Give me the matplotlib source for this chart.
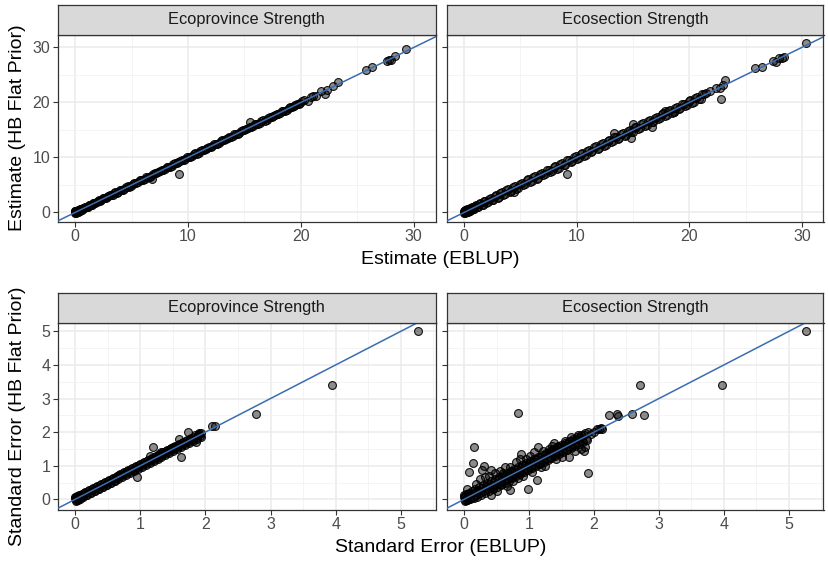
import matplotlib
matplotlib.use("Agg")
import matplotlib.pyplot as plt
from matplotlib.ticker import MultipleLocator

plt.rcParams['font.family'] = ['Liberation Sans', 'DejaVu Sans']

# ---- Estimate, Ecoprovince Strength (EBLUP on x, HB flat prior on y)
est_prov_eblup = [
    0.00, 0.02, 0.05, 0.08, 0.12, 0.18, 0.25, 0.33, 0.42, 0.52,
    0.63, 0.75, 0.90, 1.05, 1.20, 1.40, 1.60, 1.80, 2.00, 2.20,
    2.45, 2.70, 2.95, 3.20, 3.45, 3.70, 3.95, 4.20, 4.50, 4.80,
    5.10, 5.40, 5.70, 6.00, 6.30, 6.60, 6.90, 7.20, 7.50, 7.80,
    8.10, 8.40, 8.70, 9.00, 9.30, 9.60, 9.90, 10.2, 10.5, 10.8,
    11.1, 11.4, 11.7, 12.0, 12.3, 12.6, 12.9, 13.2, 13.5, 13.8,
    14.1, 14.4, 14.7, 15.0, 15.3, 15.6, 15.9, 16.2, 16.5, 16.8,
    17.1, 17.4, 17.7, 18.0, 18.3, 18.6, 18.9, 19.2, 19.5, 19.8,
    20.1,
    0.01, 0.03, 0.06, 0.10, 0.15, 0.21, 0.29, 0.37, 0.47, 0.57,
    0.69, 0.82, 0.97, 1.12, 1.30, 1.50, 1.70, 1.90, 2.10, 2.32,
    2.57, 2.82, 3.07, 3.32, 3.57, 3.82, 4.07, 4.35, 4.65, 4.95,
    5.25, 5.55, 5.85, 6.15, 6.45, 6.75, 7.05, 7.35, 7.65, 7.95,
    8.25, 8.55, 8.85, 9.15, 9.45, 9.75, 10.05, 10.35, 10.65, 10.95,
    11.25, 11.55, 11.85, 12.15, 12.45, 12.75, 13.05, 13.35, 13.65, 13.95,
    14.25, 14.55, 14.85, 15.15, 15.45, 15.75, 16.05, 16.35, 16.65, 16.95,
    17.25, 17.55, 17.85, 18.15, 18.45, 18.75, 19.05, 19.35, 19.65, 19.95,
    6.8, 9.2, 15.5, 20.3, 20.6, 20.9, 21.1, 21.3, 21.8, 22.1,
    22.3, 22.8, 23.3, 25.8, 26.3, 27.6, 27.8, 28.0, 28.3, 29.3,
]
est_prov_hb = [
    0.10, 0.25, -0.05, 0.30, 0.05, 0.35, 0.15, 0.45, 0.30, 0.62,
    0.55, 0.80, 1.00, 0.95, 1.32, 1.35, 1.72, 1.75, 2.12, 2.10,
    2.55, 2.60, 3.08, 3.10, 3.58, 3.62, 4.05, 4.12, 4.62, 4.70,
    5.20, 5.32, 5.82, 5.90, 6.42, 6.50, 7.00, 7.10, 7.62, 7.70,
    8.22, 8.30, 8.80, 8.92, 9.40, 9.52, 10.00, 10.10, 10.62, 10.70,
    11.20, 11.32, 11.80, 11.90, 12.42, 12.50, 13.00, 13.10, 13.62, 13.70,
    14.20, 14.30, 14.82, 14.90, 15.40, 15.50, 16.00, 16.10, 16.62, 16.70,
    17.20, 17.32, 17.80, 17.90, 18.42, 18.50, 19.00, 19.10, 19.62, 19.70,
    20.22,
    0.20, -0.08, 0.22, 0.02, 0.28, 0.12, 0.40, 0.30, 0.58, 0.47,
    0.80, 0.75, 1.08, 1.05, 1.40, 1.42, 1.78, 1.82, 2.18, 2.25,
    2.65, 2.75, 3.15, 3.25, 3.65, 3.75, 4.15, 4.28, 4.73, 4.88,
    5.33, 5.48, 5.93, 6.08, 6.53, 6.68, 7.13, 7.28, 7.73, 7.88,
    8.33, 8.48, 8.93, 9.08, 9.53, 9.68, 10.13, 10.28, 10.73, 10.88,
    11.33, 11.48, 11.93, 12.08, 12.53, 12.68, 13.13, 13.28, 13.73, 13.88,
    14.33, 14.48, 14.93, 15.08, 15.53, 15.68, 16.13, 16.28, 16.73, 16.88,
    17.33, 17.48, 17.93, 18.08, 18.53, 18.68, 19.13, 19.28, 19.73, 19.88,
    6.1, 6.9, 16.4, 20.5, 20.2, 20.9, 21.2, 21.1, 22.1, 21.6,
    22.2, 22.9, 23.8, 25.9, 26.4, 27.6, 27.8, 27.7, 28.4, 29.7,
]

# ---- Estimate, Ecosection Strength
est_sect_eblup = [
    0.00, 0.03, 0.06, 0.10, 0.15, 0.22, 0.30, 0.40, 0.50, 0.62,
    0.75, 0.90, 1.05, 1.25, 1.45, 1.65, 1.85, 2.10, 2.35, 2.60,
    2.85, 3.10, 3.35, 3.60, 3.90, 4.20, 4.50, 4.80, 5.10, 5.40,
    5.70, 6.00, 6.30, 6.60, 6.90, 7.20, 7.50, 7.80, 8.10, 8.40,
    8.70, 9.00, 9.30, 9.60, 9.90, 10.2, 10.5, 10.8, 11.1, 11.4,
    11.7, 12.0, 12.3, 12.6, 12.9, 13.2, 13.5, 13.8, 14.1, 14.4,
    14.7, 15.0, 15.3, 15.6, 15.9, 16.2, 16.5, 16.8, 17.1, 17.4,
    17.7, 18.0, 18.3, 18.6, 18.9, 19.2, 19.5, 19.8, 20.1, 20.4,
    20.7, 21.0, 21.3, 21.5,
    0.01, 0.04, 0.08, 0.12, 0.18, 0.26, 0.35, 0.45, 0.56, 0.68,
    0.82, 0.97, 1.15, 1.35, 1.55, 1.75, 1.97, 2.22, 2.47, 2.72,
    2.97, 3.22, 3.47, 3.75, 4.05, 4.35, 4.65, 4.95, 5.25, 5.55,
    5.85, 6.15, 6.45, 6.75, 7.05, 7.35, 7.65, 7.95, 8.25, 8.55,
    8.85, 9.15, 9.45, 9.75, 10.05, 10.35, 10.65, 10.95, 11.25, 11.55,
    11.85, 12.15, 12.45, 12.75, 13.05, 13.35, 13.65, 13.95, 14.25, 14.55,
    14.85, 15.15, 15.45, 15.75, 16.05, 16.35, 16.65, 16.95, 17.25, 17.55,
    17.85, 18.15, 18.45, 18.75, 19.05, 19.35, 19.65, 19.95, 20.25, 20.55,
    20.85, 21.15,
    4.4, 9.1, 13.3, 14.8, 15.0, 16.7, 17.8, 18.6, 21.8, 22.8,
    22.4, 22.7, 23.0, 23.2, 25.8, 26.5, 27.4, 27.7, 28.0, 28.2,
    28.4, 30.4,
]
est_sect_hb = [
    0.20, -0.10, 0.35, 0.05, 0.40, 0.00, 0.55, 0.20, 0.75, 0.40,
    1.00, 0.65, 1.30, 1.00, 1.70, 1.40, 2.10, 1.85, 2.60, 2.35,
    3.10, 2.80, 3.65, 3.30, 4.20, 3.90, 4.80, 4.50, 5.40, 5.10,
    6.00, 5.70, 6.60, 6.30, 7.20, 6.90, 7.80, 7.50, 8.40, 8.10,
    9.00, 8.70, 9.60, 9.30, 10.20, 9.90, 10.80, 10.50, 11.40, 11.10,
    12.00, 11.70, 12.60, 12.30, 13.20, 12.90, 13.80, 13.50, 14.40, 14.10,
    15.00, 14.70, 15.60, 15.30, 16.20, 15.90, 16.80, 16.50, 17.40, 17.10,
    18.00, 17.70, 18.60, 18.30, 19.20, 18.90, 19.80, 19.50, 20.40, 20.10,
    20.90, 20.70, 21.60, 21.80,
    0.05, 0.30, -0.05, 0.40, 0.10, 0.50, 0.15, 0.70, 0.35, 0.95,
    0.60, 1.25, 0.90, 1.60, 1.30, 2.00, 1.75, 2.50, 2.25, 3.00,
    2.70, 3.55, 3.20, 4.05, 3.75, 4.65, 4.35, 5.25, 4.95, 5.85,
    5.55, 6.45, 6.15, 7.05, 6.75, 7.65, 7.35, 8.25, 7.95, 8.85,
    8.55, 9.45, 9.15, 10.05, 9.75, 10.65, 10.35, 11.25, 10.95, 11.85,
    11.55, 12.45, 12.15, 13.05, 12.75, 13.65, 13.35, 14.25, 13.95, 14.85,
    14.55, 15.45, 15.15, 16.05, 15.75, 16.65, 16.35, 17.25, 16.95, 17.85,
    17.55, 18.45, 18.15, 19.05, 18.75, 19.65, 19.35, 20.25, 19.95, 20.85,
    20.65, 21.45,
    3.7, 7.0, 14.4, 13.5, 16.0, 15.6, 18.4, 18.2, 22.1, 20.6,
    22.6, 22.7, 23.1, 24.1, 26.2, 26.5, 27.6, 27.4, 28.0, 28.1,
    28.3, 30.8,
]

# ---- Standard error, Ecoprovince Strength
se_prov_eblup = [
    0.00, 0.01, 0.02, 0.03, 0.05, 0.07, 0.09, 0.11, 0.14, 0.17,
    0.20, 0.23, 0.26, 0.29, 0.32, 0.35, 0.38, 0.41, 0.44, 0.47,
    0.50, 0.53, 0.56, 0.59, 0.62, 0.65, 0.68, 0.71, 0.74, 0.77,
    0.80, 0.83, 0.86, 0.89, 0.92, 0.95, 0.98, 1.01, 1.04, 1.07,
    1.10, 1.13, 1.16, 1.19, 1.22, 1.25, 1.28, 1.31, 1.34, 1.37,
    1.40, 1.43, 1.46, 1.49, 1.52, 1.55, 1.58, 1.61, 1.64, 1.67,
    1.70, 1.73, 1.76, 1.79, 1.82, 1.85, 1.88, 1.91, 1.94,
    0.005, 0.015, 0.025, 0.04, 0.06, 0.08, 0.10, 0.125, 0.155, 0.185,
    0.215, 0.245, 0.275, 0.305, 0.335, 0.365, 0.395, 0.425, 0.455, 0.485,
    0.515, 0.545, 0.575, 0.605, 0.635, 0.665, 0.695, 0.725, 0.755, 0.785,
    0.815, 0.845, 0.875, 0.905, 0.935, 0.965, 0.995, 1.025, 1.055, 1.085,
    1.115, 1.145, 1.175, 1.205, 1.235, 1.265, 1.295, 1.325, 1.355, 1.385,
    1.415, 1.445, 1.475, 1.505, 1.535, 1.565, 1.595, 1.625, 1.655, 1.685,
    1.715, 1.745, 1.775, 1.805, 1.835, 1.865, 1.895, 1.925,
    0.95, 1.15, 1.19, 1.32, 1.50, 1.59, 1.62, 1.74, 1.85, 1.90,
    2.10, 2.15, 2.77, 3.95, 5.27,
]
se_prov_hb = [
    0.03, -0.01, 0.06, 0.00, 0.08, 0.04, 0.13, 0.08, 0.18, 0.13,
    0.24, 0.20, 0.30, 0.26, 0.36, 0.32, 0.42, 0.38, 0.48, 0.44,
    0.54, 0.50, 0.60, 0.56, 0.66, 0.62, 0.72, 0.68, 0.78, 0.74,
    0.84, 0.80, 0.90, 0.86, 0.96, 0.92, 1.02, 0.98, 1.08, 1.04,
    1.14, 1.10, 1.20, 1.16, 1.26, 1.22, 1.32, 1.28, 1.38, 1.34,
    1.44, 1.40, 1.50, 1.46, 1.56, 1.52, 1.62, 1.58, 1.68, 1.64,
    1.74, 1.70, 1.80, 1.76, 1.86, 1.82, 1.92, 1.88, 1.98,
    0.08, -0.04, 0.10, -0.02, 0.13, 0.02, 0.17, 0.06, 0.22, 0.12,
    0.28, 0.18, 0.34, 0.24, 0.40, 0.30, 0.46, 0.36, 0.52, 0.42,
    0.58, 0.48, 0.64, 0.54, 0.70, 0.60, 0.76, 0.66, 0.82, 0.72,
    0.88, 0.78, 0.94, 0.84, 1.00, 0.90, 1.06, 0.96, 1.12, 1.02,
    1.18, 1.08, 1.24, 1.14, 1.30, 1.20, 1.36, 1.26, 1.42, 1.32,
    1.48, 1.38, 1.54, 1.44, 1.60, 1.50, 1.66, 1.56, 1.72, 1.62,
    1.78, 1.68, 1.84, 1.74, 1.90, 1.80, 1.96, 1.86,
    0.67, 1.30, 1.55, 1.42, 1.55, 1.80, 1.26, 2.00, 1.72, 1.95,
    2.17, 2.19, 2.53, 3.39, 5.01,
]

# ---- Standard error, Ecosection Strength
se_sect_eblup = [
    0.00, 0.01, 0.02, 0.04, 0.06, 0.08, 0.10, 0.13, 0.16, 0.19,
    0.22, 0.25, 0.28, 0.31, 0.34, 0.37, 0.40, 0.43, 0.46, 0.49,
    0.52, 0.55, 0.58, 0.61, 0.64, 0.67, 0.70, 0.73, 0.76, 0.79,
    0.82, 0.85, 0.88, 0.91, 0.94, 0.97, 1.00, 1.03, 1.06, 1.09,
    1.12, 1.15, 1.18, 1.21, 1.24, 1.27, 1.30, 1.33, 1.36, 1.39,
    1.42, 1.45, 1.48, 1.51, 1.54, 1.57, 1.60, 1.63, 1.66, 1.69,
    1.72, 1.75, 1.78, 1.81, 1.84, 1.87,
    0.005, 0.015, 0.03, 0.05, 0.07, 0.09, 0.115, 0.145, 0.175, 0.205,
    0.235, 0.265, 0.295, 0.325, 0.355, 0.385, 0.415, 0.445, 0.475, 0.505,
    0.535, 0.565, 0.595, 0.625, 0.655, 0.685, 0.715, 0.745, 0.775, 0.805,
    0.835, 0.865, 0.895, 0.925, 0.955, 0.985, 1.015, 1.045, 1.075, 1.105,
    1.135, 1.165, 1.195, 1.225, 1.255, 1.285, 1.315, 1.345, 1.375, 1.405,
    1.435, 1.465, 1.495, 1.525, 1.555, 1.585, 1.615, 1.645, 1.675, 1.705,
    1.735, 1.765, 1.795, 1.825, 1.855, 1.885, 1.95, 2.08,
    0.05, 0.08, 0.09, 0.13, 0.15, 0.18, 0.22, 0.24, 0.27, 0.30,
    0.32, 0.35, 0.38, 0.41, 0.42, 0.45, 0.47, 0.50, 0.55, 0.58,
    0.60, 0.63, 0.66, 0.70, 0.71, 0.75, 0.80, 0.83, 0.86, 0.88,
    0.91, 0.95, 0.98, 1.02, 1.05, 1.08, 1.12, 1.14, 1.18, 1.22,
    1.25, 1.30, 1.35, 1.38, 1.42, 1.45, 1.50, 1.55, 1.62, 1.65,
    1.70, 1.75, 1.80, 1.84, 1.86, 1.90, 1.91, 2.00, 2.05, 2.10,
    2.13, 2.23, 2.35, 2.37, 2.59, 2.71, 2.77, 3.97, 5.27, 0.83,
]
se_sect_hb = [
    0.06, -0.02, 0.09, -0.01, 0.12, 0.02, 0.16, 0.07, 0.22, 0.12,
    0.28, 0.18, 0.35, 0.24, 0.41, 0.30, 0.47, 0.36, 0.53, 0.42,
    0.59, 0.48, 0.65, 0.54, 0.71, 0.60, 0.77, 0.66, 0.83, 0.72,
    0.89, 0.78, 0.95, 0.84, 1.01, 0.90, 1.07, 0.96, 1.13, 1.02,
    1.19, 1.08, 1.25, 1.14, 1.31, 1.20, 1.37, 1.26, 1.43, 1.32,
    1.49, 1.38, 1.55, 1.44, 1.61, 1.50, 1.67, 1.56, 1.73, 1.62,
    1.79, 1.68, 1.85, 1.74, 1.91, 1.80,
    0.14, -0.05, 0.16, -0.03, 0.20, 0.00, 0.24, 0.03, 0.30, 0.08,
    0.36, 0.14, 0.42, 0.20, 0.48, 0.26, 0.54, 0.32, 0.60, 0.38,
    0.66, 0.44, 0.72, 0.50, 0.78, 0.56, 0.84, 0.62, 0.90, 0.68,
    0.96, 0.74, 1.02, 0.80, 1.08, 0.86, 1.14, 0.92, 1.20, 0.98,
    1.26, 1.04, 1.32, 1.10, 1.38, 1.16, 1.44, 1.22, 1.50, 1.28,
    1.56, 1.34, 1.62, 1.40, 1.68, 1.46, 1.74, 1.52, 1.80, 1.58,
    1.86, 1.64, 1.92, 1.70, 1.98, 1.76, 1.95, 2.10,
    0.30, 0.80, 0.15, 1.08, 1.57, 0.45, 0.25, 0.60, 0.86, 0.99,
    0.67, 0.40, 0.70, 0.13, 0.86, 0.30, 0.78, 0.25, 0.85, 0.45,
    0.77, 0.95, 0.40, 0.29, 0.95, 0.55, 1.10, 0.62, 1.20, 1.36,
    0.70, 1.20, 0.30, 1.30, 0.80, 1.40, 0.58, 1.55, 0.95, 1.45,
    1.00, 1.50, 1.60, 1.67, 1.20, 1.60, 1.25, 1.75, 1.26, 1.85,
    1.45, 1.90, 1.50, 1.44, 1.55, 0.78, 2.00, 2.00, 2.10, 2.12,
    2.10, 2.51, 2.54, 2.48, 2.54, 3.39, 2.52, 3.39, 5.01, 2.56,
]

facets = ['Ecoprovince Strength', 'Ecosection Strength']
row_xlabels = ['Estimate (EBLUP)', 'Standard Error (EBLUP)']
row_ylabels = ['Estimate (HB Flat Prior)', 'Standard Error (HB Flat Prior)']
row_data = [
    [(est_prov_eblup, est_prov_hb), (est_sect_eblup, est_sect_hb)],
    [(se_prov_eblup, se_prov_hb), (se_sect_eblup, se_sect_hb)],
]
row_ticks = [(10, 5), (1, 0.5)]

W, H = 829, 562
fig = plt.figure(figsize=(W / 100, H / 100), dpi=100)


def box(x0, y0, x1, y1):
    # pixel box (from top-left) -> figure fraction rect
    return [x0 / W, 1 - y1 / H, (x1 - x0) / W, (y1 - y0) / H]


col_px = [(58, 435.5), (447, 823.5)]
row_px = [(5, 34.5, 221.5), (292.5, 322.5, 509.5)]

for r in range(2):
    # shared scales within a row, 5% expansion like ggplot
    xs = row_data[r][0][0] + row_data[r][1][0]
    ys = row_data[r][0][1] + row_data[r][1][1]
    xpad = 0.05 * (max(xs) - min(xs))
    ypad = 0.05 * (max(ys) - min(ys))
    xlim = (min(xs) - xpad, max(xs) + xpad)
    ylim = (min(ys) - ypad, max(ys) + ypad)
    major, minor = row_ticks[r]
    s_top, p_top, p_bot = row_px[r]

    for c in range(2):
        x0, x1 = col_px[c]
        ax = fig.add_axes(box(x0, p_top, x1, p_bot))
        ex, hb = row_data[r][c]
        ax.scatter(ex, hb, s=32, facecolors=(0, 0, 0, 0.45),
                   edgecolors=(0, 0, 0, 0.9), linewidths=0.8, zorder=2)
        ax.axline((0, 0), slope=1, color='#3A6DB0', lw=1.1, zorder=3)
        ax.set_xlim(xlim)
        ax.set_ylim(ylim)
        ax.xaxis.set_major_locator(MultipleLocator(major))
        ax.yaxis.set_major_locator(MultipleLocator(major))
        ax.xaxis.set_minor_locator(MultipleLocator(minor))
        ax.yaxis.set_minor_locator(MultipleLocator(minor))
        ax.grid(which='major', color='#EBEBEB', lw=1.1, zorder=0)
        ax.grid(which='minor', color='#F2F2F2', lw=0.6, zorder=0)
        ax.set_axisbelow(True)
        ax.tick_params(which='major', length=3.5, width=0.8, color='#333333',
                       labelsize=11.5, labelcolor='#4D4D4D', pad=2)
        ax.tick_params(which='minor', length=0)
        if c == 1:
            ax.tick_params(labelleft=False)
        for sp in ax.spines.values():
            sp.set_color('#333333')
            sp.set_linewidth(0.9)

        # facet strip
        st = fig.add_axes(box(x0, s_top, x1, p_top))
        st.set_facecolor('#D9D9D9')
        st.set_xticks([])
        st.set_yticks([])
        for sp in st.spines.values():
            sp.set_color('#333333')
            sp.set_linewidth(0.9)
        st.text(0.5, 0.5, facets[c], ha='center', va='center',
                fontsize=11.8, color='#1A1A1A', transform=st.transAxes)

    mid_x = (col_px[0][0] + col_px[1][1]) / 2
    fig.text(mid_x / W, 1 - (p_bot + 38) / H, row_xlabels[r],
             ha='center', va='center', fontsize=14)
    fig.text(18 / W, 1 - ((p_top + p_bot) / 2) / H, row_ylabels[r],
             ha='center', va='center', rotation=90, fontsize=14)

fig.savefig('out.png', dpi=100)
